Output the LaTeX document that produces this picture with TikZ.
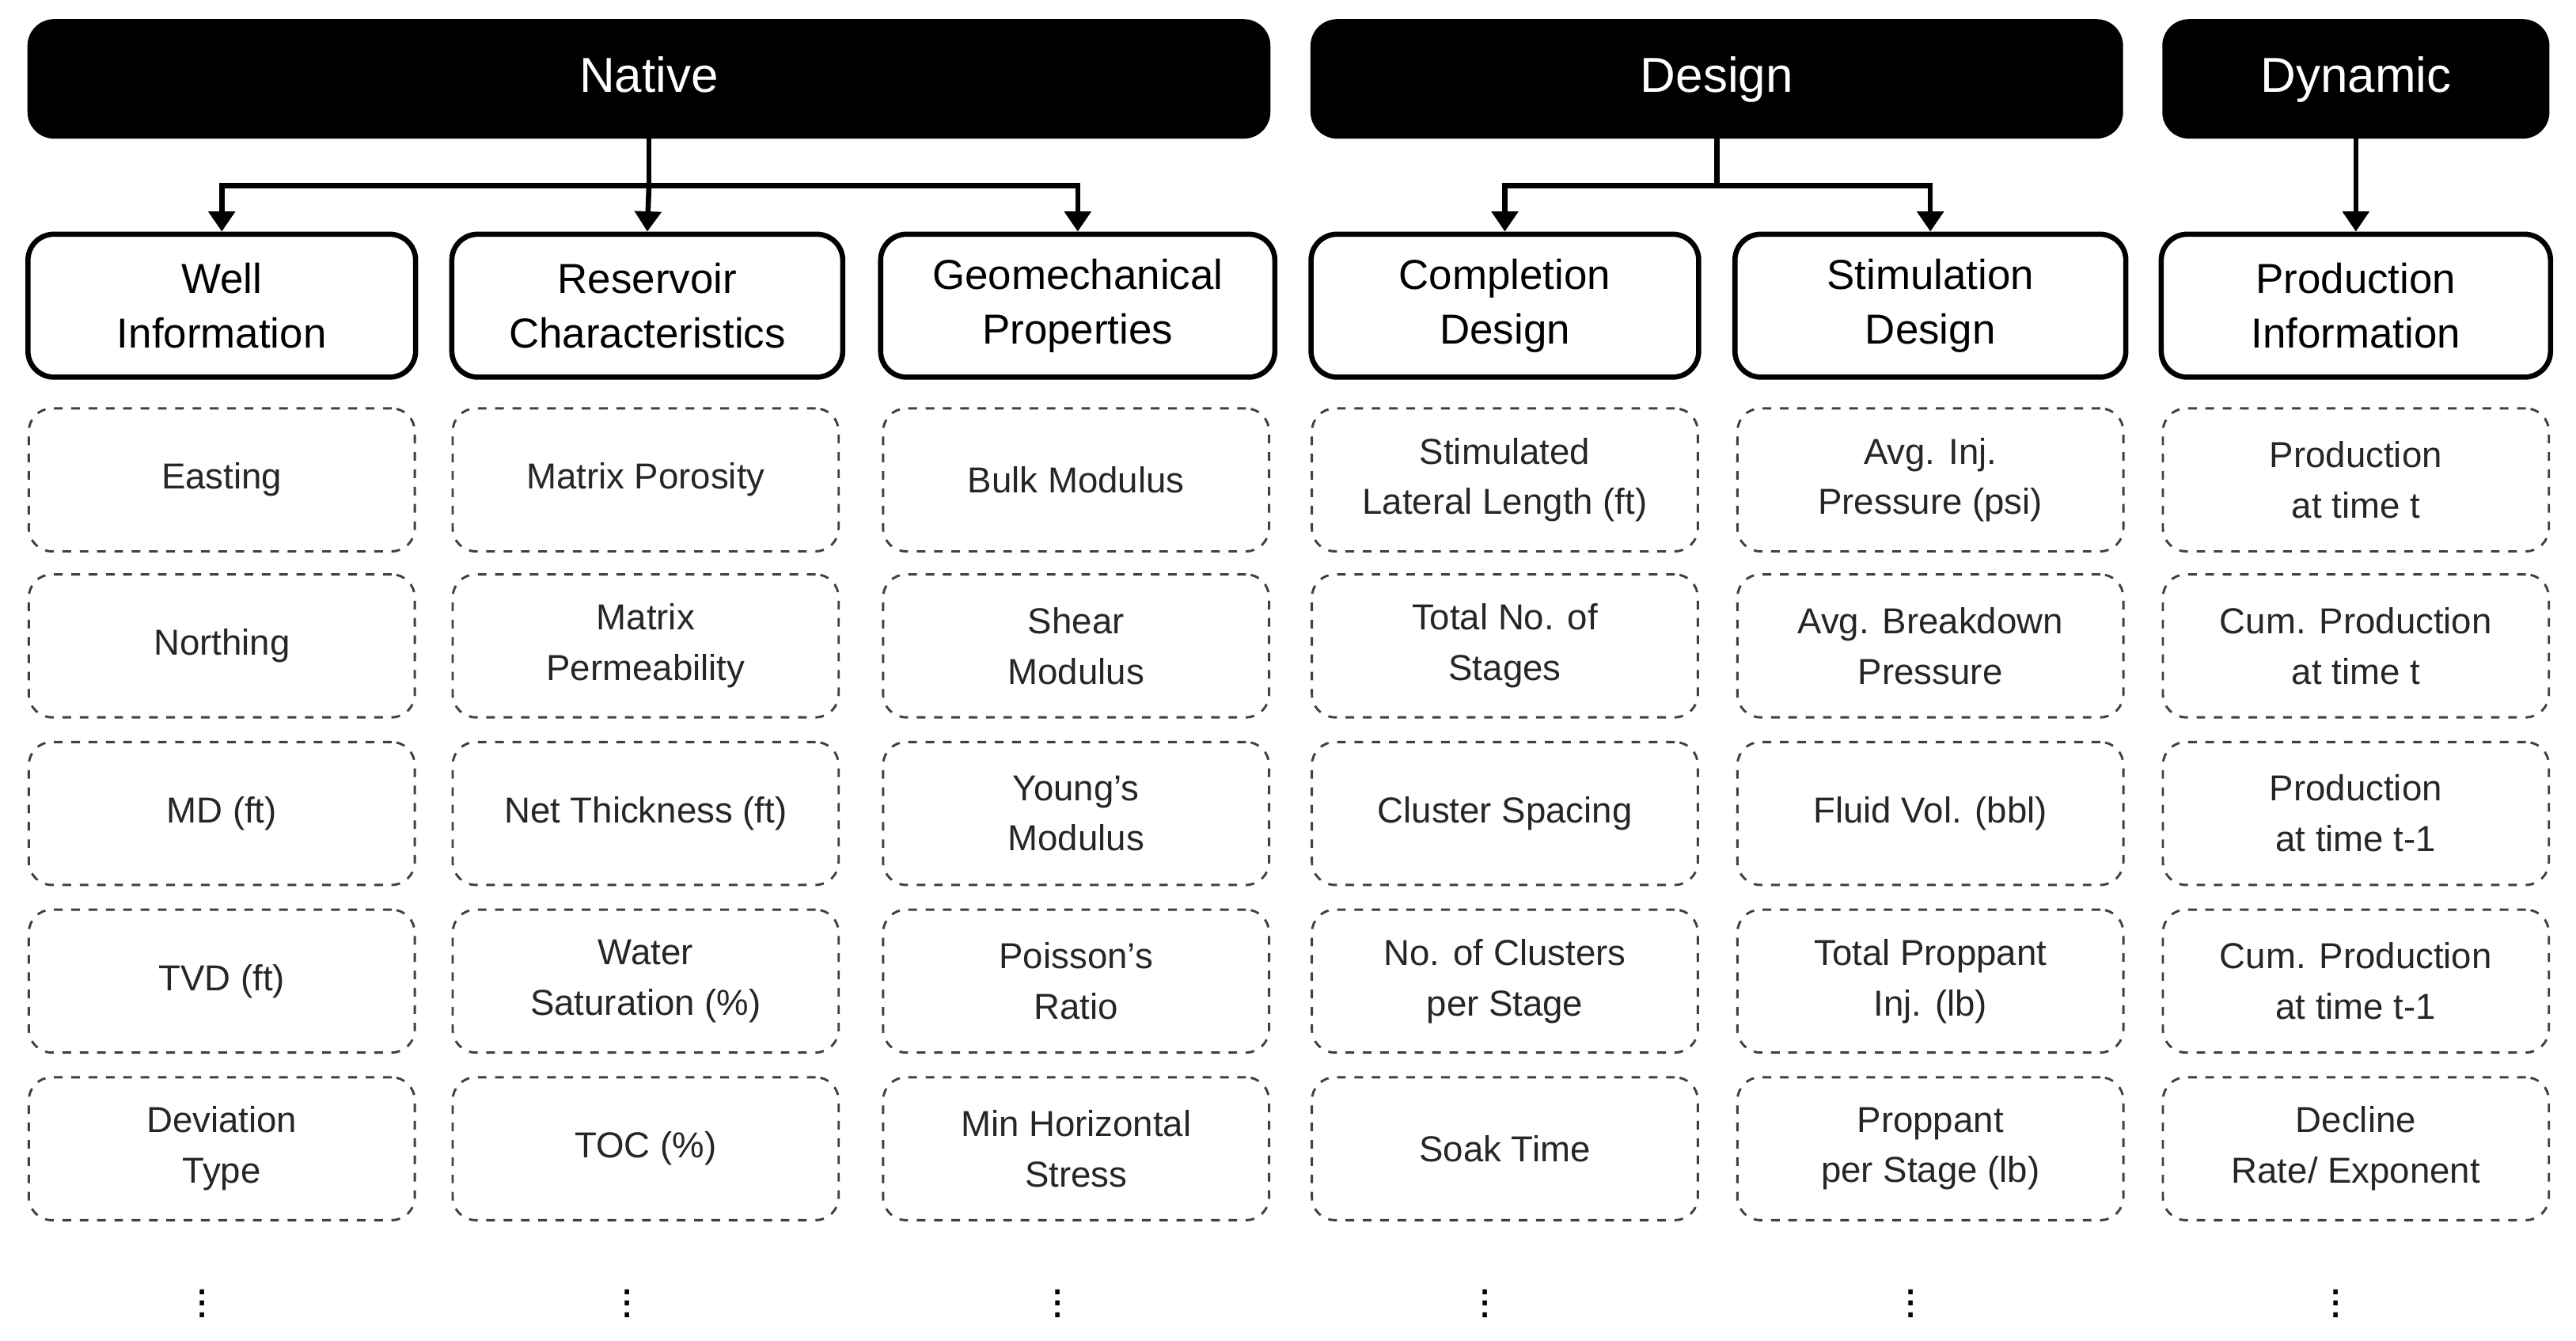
\documentclass[tikz,border=0pt]{standalone}
\usepackage{fontspec}
\setmainfont{Liberation Sans}
\usetikzlibrary{arrows.meta}
\begin{document}
\begin{tikzpicture}[x=0.02cm,y=-0.02cm,
  hdr/.style={fill=black,draw=black,rounded corners=9pt,text=white,font=\fontsize{17}{20}\selectfont,inner sep=0pt,text height=12pt,text depth=3pt},
  cat/.style={draw=black,line width=1.8pt,rounded corners=9pt,font=\fontsize{14.5}{19}\selectfont,align=center,inner sep=0pt,minimum height=1.74cm},
  itm/.style={draw=black!75,dashed,line width=0.8pt,rounded corners=8pt,font=\fontsize{12.5}{17.5}\selectfont,align=center,inner sep=0pt,minimum height=1.74cm,text=black!85},
  arr/.style={line width=1.8pt,-{Triangle[length=7pt,width=9pt]}},
  dots/.style={font=\fontsize{16}{16}\selectfont}]
\useasboundingbox (0,0) rectangle (1568,816);
\node[hdr,minimum width=15.12cm,minimum height=1.44cm] (native) at (395,48) {Native};
\node[hdr,minimum width=9.88cm,minimum height=1.44cm] (design) at (1045,48) {Design};
\node[hdr,minimum width=4.7cm,minimum height=1.44cm] (dynamic) at (1434,48) {Dynamic};
\foreach \n/\cx/\w/\t in {well/135/4.72/{Well\\Information},res/394/4.76/{Reservoir\\Characteristics},geo/656/4.8/{Geomechanical\\Properties},comp/916/4.72/{Completion\\Design},stim/1175/4.76/{Stimulation\\Design},prod/1434/4.74/{Production\\Information}}
  \node[cat,minimum width=\w cm] (\n) at (\cx,186) {\t};
\coordinate (nj) at (395,113);
\coordinate (dj) at (1045,113);
\draw[line width=1.8pt] (native.south) -- (nj);
\draw[line width=1.8pt] (design.south) -- (dj);
\draw[arr] (nj) -| (well.north);
\draw[arr] (nj) -- (res.north);
\draw[arr] (nj) -| (geo.north);
\draw[arr] (dj) -| (comp.north);
\draw[arr] (dj) -| (stim.north);
\draw[arr] (dynamic.south) -- (prod.north);
\foreach \n/\cx/\a/\b/\c/\d/\e in {
 well/135/Easting/Northing/MD (ft)/TVD (ft)/{Deviation\\Type},
 res/393/Matrix Porosity/{Matrix\\Permeability}/Net Thickness (ft)/{Water\\Saturation (\%)}/TOC (\%),
 geo/655/Bulk Modulus/{Shear\\Modulus}/{Young’s\\Modulus}/{Poisson’s\\Ratio}/{Min Horizontal\\Stress},
 comp/916/{Stimulated\\Lateral Length (ft)}/{Total No. of\\Stages}/Cluster Spacing/{No. of Clusters\\per Stage}/Soak Time,
 stim/1175/{Avg. Inj.\\Pressure (psi)}/{Avg. Breakdown\\Pressure}/Fluid Vol. (bbl)/{Total Proppant\\Inj. (lb)}/{Proppant\\per Stage (lb)},
 prod/1434/{Production\\at time t}/{Cum. Production\\at time t}/{Production\\at time t-1}/{Cum. Production\\at time t-1}/{Decline\\Rate/ Exponent}}
{
 \node[itm,minimum width=4.7cm] (\n1) at (\cx,292) {\a};
 \node[itm,minimum width=4.7cm] (\n2) at (\cx,393) {\b};
 \node[itm,minimum width=4.7cm] (\n3) at (\cx,495) {\c};
 \node[itm,minimum width=4.7cm] (\n4) at (\cx,597) {\d};
 \node[itm,minimum width=4.7cm] (\n5) at (\cx,699) {\e};
}
\foreach \n/\cx in {w/123,r/382,g/644,c/904,s/1163,p/1422}
  \node[dots] (dots\n) at (\cx,788) {$\vdots$};
\end{tikzpicture}
\end{document}
